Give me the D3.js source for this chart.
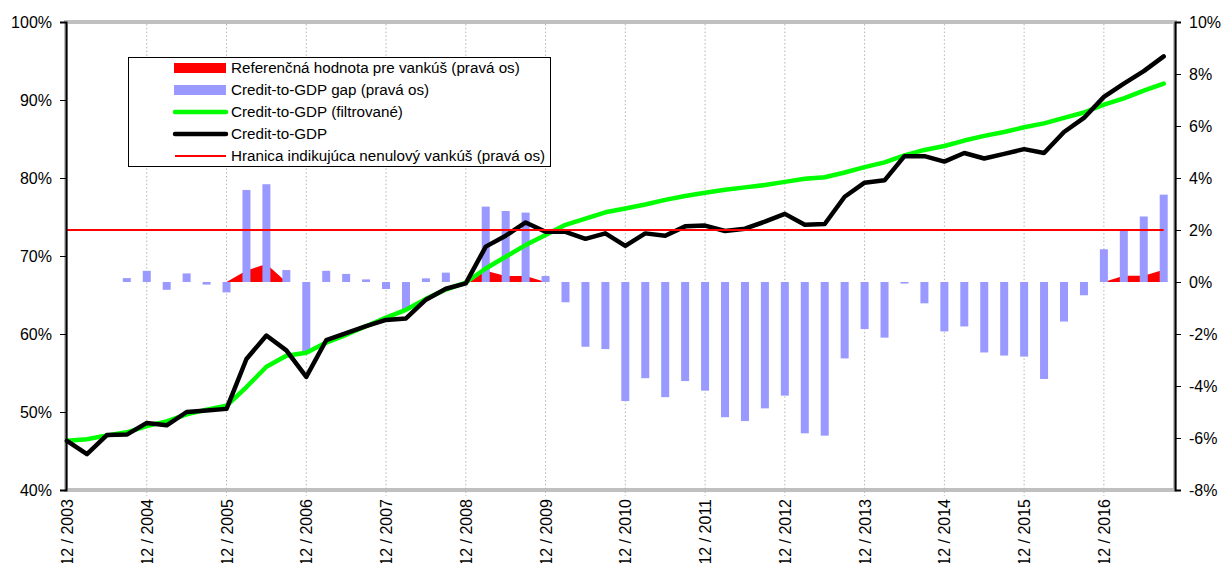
<!DOCTYPE html>
<html>
<head>
<meta charset="utf-8">
<script src="https://cdn.jsdelivr.net/npm/d3@7"></script>
<style>
  html, body { margin: 0; padding: 0; background: #fff; }
  svg { display: block; }
  text { font-family: "Liberation Sans", Arial, sans-serif; }
</style>
</head>
<body>
<svg id="chart" width="1224" height="563"></svg>
<script>
// ---------- DATA ----------
// Quarterly observations 12/2003 ... 9/2017 (56 quarters)
const startYear = 2003;
const categories = [];
for (let k = 0; k < 56; k++) {
  const m = [12, 3, 6, 9][k % 4];
  const y = startYear + Math.ceil(k / 4);
  categories.push(m + " / " + y);
}
const yearTickLabels = ["12 / 2003","12 / 2004","12 / 2005","12 / 2006","12 / 2007","12 / 2008","12 / 2009",
  "12 / 2010","12 / 2011","12 / 2012","12 / 2013","12 / 2014","12 / 2015","12 / 2016"];
const leftTicks = [40, 50, 60, 70, 80, 90, 100];
const rightTicks = [-8, -6, -4, -2, 0, 2, 4, 6, 8, 10];

// Credit-to-GDP (left axis, %)
const creditToGDP = [46.3, 44.6, 47.05, 47.1, 48.6, 48.3, 50.0, 50.2, 50.4, 56.8, 59.8, 57.9, 54.5, 59.2,
  60.1, 61.0, 61.8, 62.0, 64.4, 65.8, 66.5, 71.2, 72.6, 74.3, 73.1, 73.1, 72.2, 72.9, 71.3, 72.9,
  72.6, 73.8, 73.9, 73.2, 73.5, 74.4, 75.4, 74.0, 74.1, 77.6, 79.4, 79.7, 82.8, 82.8, 82.1, 83.2,
  82.5, 83.1, 83.7, 83.2, 85.9, 87.7, 90.4, 92.1, 93.7, 95.6];
// Credit-to-GDP filtered trend (left axis, %)
const creditToGDPTrend = [46.3, 46.5, 47.0, 47.4, 48.2, 48.8, 49.7, 50.3, 50.8, 53.2, 55.8, 57.2, 57.6, 58.9,
  59.9, 61.0, 62.1, 63.1, 64.5, 65.7, 66.6, 68.4, 69.9, 71.4, 72.7, 74.0, 74.8, 75.6, 76.1, 76.6,
  77.2, 77.7, 78.1, 78.5, 78.8, 79.1, 79.5, 79.9, 80.1, 80.7, 81.4, 82.0, 82.9, 83.6, 84.1, 84.8,
  85.4, 85.9, 86.5, 87.0, 87.7, 88.4, 89.4, 90.2, 91.2, 92.1];
// Credit-to-GDP gap (right axis, p.b.)
const gap = [null, null, null, 0.15, 0.43, -0.3, 0.33, -0.1, -0.4, 3.54, 3.76, 0.46, -2.75, 0.43,
  0.31, 0.1, -0.27, -1.05, 0.14, 0.36, 0, 2.9, 2.73, 2.67, 0.23, -0.78, -2.49, -2.58, -4.58, -3.7,
  -4.43, -3.81, -4.18, -5.2, -5.35, -4.86, -4.37, -5.82, -5.91, -2.94, -1.81, -2.14, -0.06, -0.82, -1.9, -1.71,
  -2.71, -2.83, -2.87, -3.73, -1.52, -0.51, 1.26, 2.0, 2.52, 3.36];
// Buffer reference value (right axis)
const bufferRef = [0, 0, 0, 0, 0, 0, 0, 0, 0, 0.44, 0.69, 0, 0, 0,
  0, 0, 0, 0, 0, 0, 0, 0.43, 0.23, 0.23, 0, 0, 0, 0, 0, 0,
  0, 0, 0, 0, 0, 0, 0, 0, 0, 0, 0, 0, 0, 0, 0, 0,
  0, 0, 0, 0, 0, 0, 0, 0.24, 0.24, 0.47];
// Threshold for non-zero buffer (right axis)
const threshold = [2, 2, 2, 2, 2, 2, 2, 2, 2, 2, 2, 2, 2, 2, 2, 2, 2, 2, 2, 2, 2, 2, 2, 2, 2, 2, 2, 2,
  2, 2, 2, 2, 2, 2, 2, 2, 2, 2, 2, 2, 2, 2, 2, 2, 2, 2, 2, 2, 2, 2, 2, 2, 2, 2, 2, 2];

const legendItems = [
  { label: "Referenčná hodnota pre vankúš (pravá os)", type: "rect", color: "#FF0000" },
  { label: "Credit-to-GDP gap (pravá os)", type: "rect", color: "#9999FF" },
  { label: "Credit-to-GDP (filtrované)", type: "line", color: "#00FF00", w: 4.5 },
  { label: "Credit-to-GDP", type: "line", color: "#000000", w: 4.5 },
  { label: "Hranica indikujúca nenulový vankúš (pravá os)", type: "line", color: "#FF0000", w: 2 }
];

// ---------- LAYOUT ----------
const svg = d3.select("#chart");
const plotL = 66, plotR = 1175, plotT = 22, plotB = 490;

const x = d3.scaleLinear().domain([0, 55]).range([67, 67 + 55 * 19.94]);
const yL = d3.scaleLinear().domain([40, 100]).range([plotB, plotT]);
const yR = d3.scaleLinear().domain([-8, 10]).range([plotB, plotT]);

// plot area frame
svg.append("rect")
  .attr("x", plotL).attr("y", plotT)
  .attr("width", plotR - plotL).attr("height", plotB - plotT)
  .attr("fill", "#fff").attr("stroke", "#C0C0C0").attr("stroke-width", 4);

// vertical dotted gridlines at each year
const g = svg.append("g");
yearTickLabels.forEach((lab, k) => {
  if (k === 0) return;
  const xi = x(k * 4);
  g.append("line")
    .attr("x1", xi).attr("x2", xi).attr("y1", plotT + 2).attr("y2", plotB + 6)
    .attr("stroke", "#B4B4B4").attr("stroke-width", 1)
    .attr("stroke-dasharray", "1.5,2.3");
});

// red area (buffer reference)
const area = d3.area()
  .x((d, i) => x(i))
  .y0(yR(0))
  .y1(d => yR(d));
svg.append("path").datum(bufferRef)
  .attr("d", area).attr("fill", "#FF0000");

// gap bars
svg.append("g").selectAll("rect")
  .data(gap.map((v, i) => ({ v, i })).filter(d => d.v !== null))
  .join("rect")
  .attr("x", d => x(d.i) - 4)
  .attr("width", 8)
  .attr("y", d => Math.min(yR(d.v), yR(0)))
  .attr("height", d => Math.max(Math.abs(yR(d.v) - yR(0)), 1))
  .attr("fill", "#9999FF");

// lines
const lineL = d3.line().x((d, i) => x(i)).y(d => yL(d));
const lineR = d3.line().x((d, i) => x(i)).y(d => yR(d));

svg.append("path").datum(creditToGDPTrend)
  .attr("d", lineL).attr("fill", "none")
  .attr("stroke", "#00FF00").attr("stroke-width", 4.5)
  .attr("stroke-linejoin", "round").attr("stroke-linecap", "round");

svg.append("path").datum(creditToGDP)
  .attr("d", lineL).attr("fill", "none")
  .attr("stroke", "#000").attr("stroke-width", 4.5)
  .attr("stroke-linejoin", "round").attr("stroke-linecap", "round");

svg.append("path").datum(threshold)
  .attr("d", lineR).attr("fill", "none")
  .attr("stroke", "#FF0000").attr("stroke-width", 2);

// axes
const axisL = d3.axisLeft(yL).tickValues(leftTicks).tickSize(6).tickPadding(8)
  .tickFormat(d => d + "%");
const gL = svg.append("g").attr("transform", `translate(${plotL},0)`).call(axisL);
const axisR = d3.axisRight(yR).tickValues(rightTicks).tickSize(6).tickPadding(8)
  .tickFormat(d => d + "%");
const gR = svg.append("g").attr("transform", `translate(${plotR},0)`).call(axisR);
[gL, gR].forEach(ga => {
  ga.select(".domain").attr("stroke", "#000").attr("stroke-width", 2);
  ga.selectAll(".tick line").attr("stroke", "#000").attr("stroke-width", 1);
  ga.selectAll(".tick text").attr("font-size", 16)
    .attr("font-family", "Liberation Sans, Arial, sans-serif").attr("fill", "#000");
});

// bottom x labels (rotated; the reference crops their start at the bottom edge)
const xAxisScale = d3.scalePoint().domain(yearTickLabels).range([x(0), x(52)]);
const axisB = d3.axisBottom(xAxisScale).tickSize(0).tickPadding(0);
const gB = svg.append("g").attr("transform", `translate(0,${plotB})`).call(axisB);
gB.select(".domain").remove();
gB.selectAll(".tick text")
  .attr("font-size", 16).attr("font-family", "Liberation Sans, Arial, sans-serif").attr("fill", "#000")
  .attr("text-anchor", "end")
  .attr("transform", "translate(0,9) rotate(-90)")
  .attr("x", 0).attr("y", 0).attr("dy", "0.35em");

// legend
const lg = svg.append("g");
lg.append("rect").attr("x", 128.5).attr("y", 57.5).attr("width", 422).attr("height", 109)
  .attr("fill", "#fff").attr("stroke", "#000").attr("stroke-width", 1);
legendItems.forEach((it, k) => {
  const cy = 68 + k * 22;
  if (it.type === "rect") {
    lg.append("rect").attr("x", 174).attr("y", cy - 5).attr("width", 52).attr("height", 10)
      .attr("fill", it.color);
  } else {
    lg.append("line").attr("x1", 175).attr("x2", 226).attr("y1", cy).attr("y2", cy)
      .attr("stroke", it.color).attr("stroke-width", it.w).attr("stroke-linecap", it.w > 3 ? "round" : "butt");
  }
  lg.append("text").attr("x", 231).attr("y", cy).attr("dy", "0.35em")
    .attr("font-size", 15.2).attr("fill", "#000").text(it.label);
});
</script>
</body>
</html>
